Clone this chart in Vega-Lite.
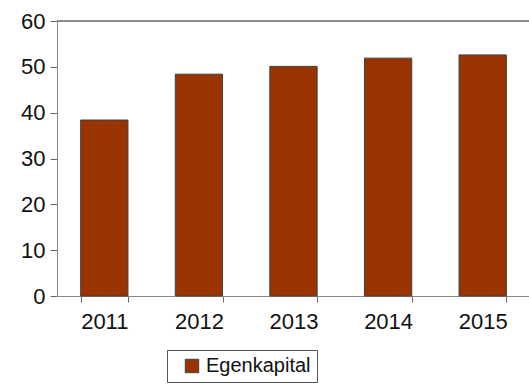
{
  "$schema": "https://vega.github.io/schema/vega-lite/v6.json",
  "width": 473,
  "height": 275,
  "autosize": "none",
  "padding": {"left": 57, "top": 21, "right": 0, "bottom": 89},
  "background": "white",
  "config": {
    "font": "Liberation Sans",
    "view": {"stroke": null},
    "axis": {"labelFont": "Liberation Sans", "labelFontSize": 22, "labelColor": "#111", "domainColor": "#888", "tickColor": "#666", "tickWidth": 1, "ticks": true, "grid": false, "title": null}
  },
  "data": {"values": [
    {"year": "2011", "value": 38.4, "series": "Egenkapital"},
    {"year": "2012", "value": 48.4, "series": "Egenkapital"},
    {"year": "2013", "value": 50.1, "series": "Egenkapital"},
    {"year": "2014", "value": 51.9, "series": "Egenkapital"},
    {"year": "2015", "value": 52.6, "series": "Egenkapital"}
  ]},
  "layer": [
    {
      "mark": {"type": "bar", "stroke": "#404040", "strokeWidth": 1},
      "encoding": {
        "x": {"field": "year", "type": "nominal", "scale": {"paddingInner": 0.5, "paddingOuter": 0.25},
              "axis": {"labelAngle": 0, "tickBand": "extent", "tickSize": 6, "labelPadding": 9}},
        "y": {"field": "value", "type": "quantitative", "scale": {"domain": [0, 60], "nice": false},
              "axis": {"values": [0, 10, 20, 30, 40, 50, 60], "tickSize": 7, "labelPadding": 5}},
        "color": {"field": "series", "type": "nominal", "scale": {"range": ["#993300"]},
                  "legend": {"title": null, "orient": "none", "legendX": 110, "legendY": 329, "symbolType": "square", "symbolSize": 180, "symbolOffset": 9, "symbolStrokeColor": "#404040", "symbolStrokeWidth": 1, "labelFontSize": 20, "labelFont": "Liberation Sans", "labelColor": "#111", "labelOffset": 4, "strokeColor": "#555", "padding": 6, "fillColor": "white"}}
      }
    },
    {
      "mark": {"type": "rule", "color": "#888"},
      "encoding": {"y": {"datum": 60}}
    }
  ]
}
